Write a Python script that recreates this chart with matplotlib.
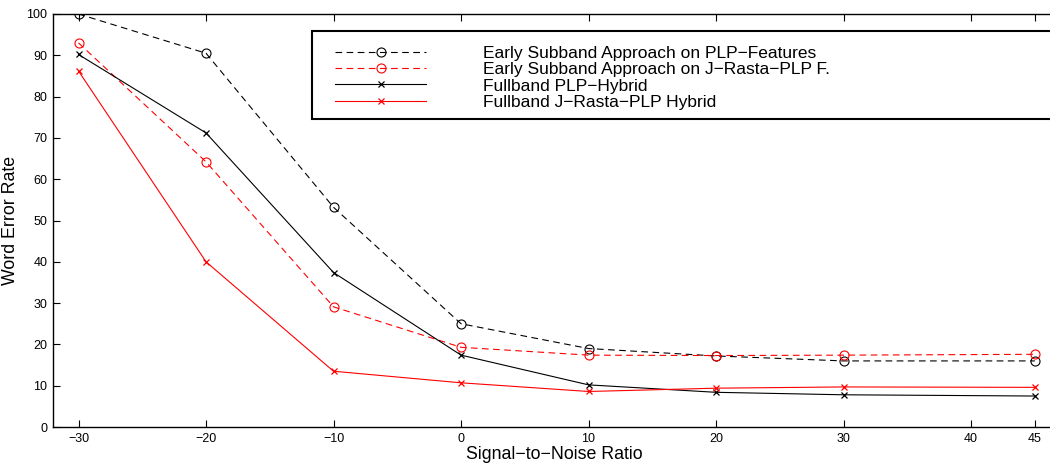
import matplotlib.pyplot as plt
from matplotlib.patches import Rectangle

plt.rcParams['font.family'] = ['Liberation Sans', 'DejaVu Sans']

snr = [-30, -20, -10, 0, 10, 20, 30, 45]
subband_plp = [100, 90.5, 53.2, 25.0, 19.0, 17.2, 16.0, 16.0]
subband_jrasta = [93, 64.2, 29.1, 19.3, 17.4, 17.3, 17.4, 17.6]
fullband_plp = [90.2, 71.2, 37.4, 17.4, 10.2, 8.4, 7.8, 7.5]
fullband_jrasta = [86.2, 40.0, 13.5, 10.7, 8.6, 9.4, 9.7, 9.6]

labels = [
    "Early Subband Approach on PLP\u2212Features",
    "Early Subband Approach on J\u2212Rasta\u2212PLP F.",
    "Fullband PLP\u2212Hybrid",
    "Fullband J\u2212Rasta\u2212PLP Hybrid",
]
xticks = [-30, -20, -10, 0, 10, 20, 30, 40, 45]
yticks = list(range(0, 101, 10))

W, H = 1050, 463
fig = plt.figure(figsize=(W / 100, H / 100), dpi=100)
ax = fig.add_axes([53 / W, 36 / H, 1.005 - 53 / W, 413 / H])

ax.plot(snr, subband_plp, color="black", linestyle=(0, (6, 4)), linewidth=0.8,
        marker="o", markersize=6.5, markerfacecolor="none", markeredgewidth=0.8,
        label=labels[0])
ax.plot(snr, subband_jrasta, color="red", linestyle=(0, (6, 4)), linewidth=0.8,
        marker="o", markersize=6.5, markerfacecolor="none", markeredgewidth=0.8,
        label=labels[1])
ax.plot(snr, fullband_plp, color="black", linestyle="-", linewidth=0.8,
        marker="x", markersize=4.5, markeredgewidth=0.9, label=labels[2])
ax.plot(snr, fullband_jrasta, color="red", linestyle="-", linewidth=0.8,
        marker="x", markersize=4.5, markeredgewidth=0.9, label=labels[3])

ax.set_xlim(-32, 46.6)
ax.set_ylim(0, 100)
ax.set_xticks(xticks)
ax.set_yticks(yticks)
ax.tick_params(direction="in", length=5, width=0.8, labelsize=9,
               top=True, right=False, pad=4)
for s in ax.spines.values():
    s.set_linewidth(1.0)

ax.set_xlabel("Signal\u2212to\u2212Noise Ratio", fontsize=12.8, labelpad=1)
ax.set_ylabel("Word Error Rate", fontsize=12.8, labelpad=5)

# legend box (MATLAB style, running off the right edge)
ax.add_patch(Rectangle((312 / W, 1 - 119 / H), 0.8, 88 / H,
                       transform=fig.transFigure, facecolor="white",
                       edgecolor="black", linewidth=1.5, zorder=4, clip_on=False))
leg = ax.legend(loc="upper left", bbox_to_anchor=(335 / W, 1 - 46 / H),
                bbox_transform=fig.transFigure, frameon=False,
                fontsize=12.5, handlelength=5.25, handletextpad=3.3,
                labelspacing=0.06, borderpad=0, borderaxespad=0, numpoints=1)
leg.set_zorder(5)

fig.savefig("out.png", dpi=100)
